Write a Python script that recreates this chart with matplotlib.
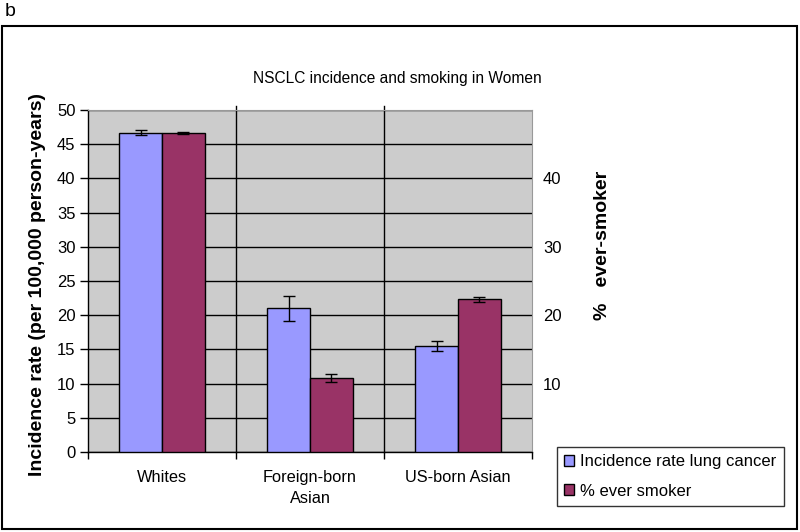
import matplotlib
matplotlib.use('Agg')
import matplotlib.pyplot as plt
from matplotlib.patches import Rectangle, Patch
import numpy as np

plt.rcParams['font.family'] = ['Liberation Sans', 'DejaVu Sans']

groups = ['Whites', 'Foreign-born\nAsian', 'US-born Asian']
incidence = [46.7, 21.0, 15.5]
incidence_err = [0.4, 1.8, 0.7]
smoker = [46.6, 10.8, 22.3]
smoker_err = [0.15, 0.55, 0.35]
right_ticks = [10, 20, 30, 40]

blue = '#9999FF'
red = '#993366'

fig = plt.figure(figsize=(8, 5.32), dpi=100)
fig.patches.append(Rectangle((0.003, 0.006), 0.993, 0.945, transform=fig.transFigure,
                             fill=False, edgecolor='black', linewidth=1.5))
fig.text(0.006, 0.995, 'b', fontsize=14, va='top', ha='left')

ax = fig.add_axes([0.11, 0.1504, 0.555, 0.6429])
ax.set_facecolor('#CCCCCC')
x = np.arange(len(groups))
w = 0.29
ax.bar(x - w / 2, incidence, w, color=blue, edgecolor='black', linewidth=1, zorder=3)
ax.bar(x + w / 2, smoker, w, color=red, edgecolor='black', linewidth=1, zorder=3)
ax.errorbar(x - w / 2, incidence, yerr=incidence_err, fmt='none', ecolor='black',
            elinewidth=1, capsize=4, capthick=1, zorder=4)
ax.errorbar(x + w / 2, smoker, yerr=smoker_err, fmt='none', ecolor='black',
            elinewidth=1, capsize=4, capthick=1, zorder=4)

ax.set_xlim(-0.5, 2.5)
ax.set_ylim(0, 50)
ax.set_yticks(np.arange(0, 51, 5))
ax.yaxis.grid(True, color='black', linewidth=1, zorder=0)
ax.set_axisbelow(True)
for xv in [0.5, 1.5]:
    ax.axvline(xv, ymin=0, ymax=1.012, color='black', linewidth=1, zorder=1, clip_on=False)

ax.set_xticks(x)
ax.set_xticklabels(groups, fontsize=11.8, linespacing=1.5)
ax.tick_params(axis='x', length=0, pad=13)
ax.set_xticks([-0.5, 0.5, 1.5, 2.5], minor=True)
ax.tick_params(axis='x', which='minor', length=5, width=1, direction='out')
ax.tick_params(axis='y', length=6, width=1, direction='out', labelsize=12, pad=3)

for side in ['top', 'right']:
    ax.spines[side].set_color('#999999')
ax.spines['left'].set_linewidth(1)
ax.spines['bottom'].set_linewidth(1)

ax.set_ylabel('Incidence rate (per 100,000 person-years)', fontsize=14,
              fontweight='bold')
ax.yaxis.set_label_coords(-0.095, 0.49)

ax2 = ax.twinx()
ax2.set_ylim(0, 50)
ax2.set_yticks(right_ticks)
ax2.tick_params(axis='y', length=0, labelsize=12, pad=8)
for side in ['top', 'right', 'left', 'bottom']:
    ax2.spines[side].set_visible(False)
ax2.set_ylabel('%   ever-smoker', fontsize=14, fontweight='bold')
ax2.yaxis.set_label_coords(1.14, 0.605)

fig.text(0.497, 0.853, 'NSCLC incidence and smoking in Women', fontsize=11.2,
         ha='center', va='center')

handles = [Patch(facecolor=blue, edgecolor='black', linewidth=1),
           Patch(facecolor=red, edgecolor='black', linewidth=1)]
leg = fig.legend(handles, ['Incidence rate lung cancer', '% ever smoker'],
                 loc='upper left', bbox_to_anchor=(0.696, 0.16), fontsize=12,
                 frameon=True, fancybox=False, handlelength=0.6, handleheight=0.6,
                 handletextpad=0.35, borderpad=0.45, labelspacing=0.85,
                 borderaxespad=0)
leg.get_frame().set_edgecolor('black')
leg.get_frame().set_linewidth(1)

fig.savefig('out.png', dpi=100)
